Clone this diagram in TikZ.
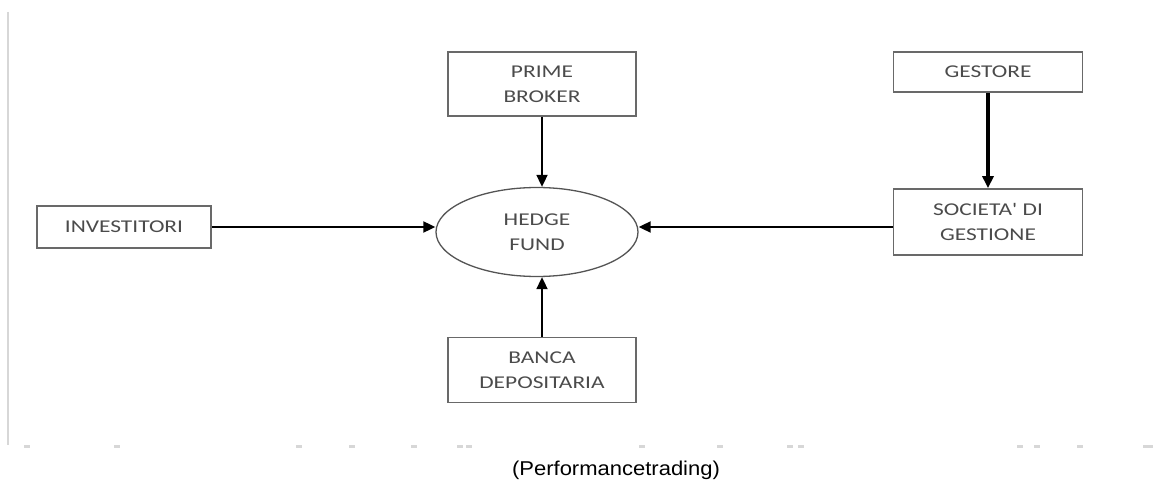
\documentclass[tikz,border=0pt]{standalone}
\usepackage{fontspec}
\newfontfamily\boxfont[FakeStretch=1.3]{Carlito}
\newfontfamily\capfont[FakeStretch=1.1]{Liberation Sans}
\definecolor{boxgray}{RGB}{105,105,105}
\definecolor{txtgray}{RGB}{75,75,75}
\definecolor{rulegray}{RGB}{215,215,215}
\usetikzlibrary{arrows.meta,positioning,shapes.geometric}

\begin{document}
\begin{tikzpicture}[x=1pt, y=-1pt,
    entity/.style={rectangle, draw=boxgray, line width=1.7pt, inner sep=0pt, align=center,
      text=txtgray, font=\boxfont\fontsize{18}{25}\selectfont},
    fund/.style={ellipse, draw=boxgray!80!black, line width=1.3pt, inner sep=0pt,
      minimum width=202, minimum height=89, align=center,
      text=txtgray, font=\boxfont\fontsize{18}{25}\selectfont},
    arrow/.style={-{Triangle[length=12pt, width=11pt]}, line width=1.8pt, black}
  ]
    \useasboundingbox (0,0) rectangle (1153,481);
    % frame left over from the source page
    \draw[rulegray, line width=2pt] (8,12) -- (8,445);
    \foreach \px in {27,117,299,352,414,460,469,642,720,790,801,1020,1037,1080}
      \fill[rulegray] (\px-3,445) rectangle (\px+3,448);
    \fill[rulegray] (1143,445) rectangle (1153,448);
    % Entities
    \node[fund] (hedge) at (537,232) {HEDGE\\FUND};
    \node[entity, minimum width=174, minimum height=42] (investitori) at (124,227) {INVESTITORI};
    \node[entity, minimum width=188, minimum height=64] (prime) at (542,84) {PRIME\\BROKER};
    \node[entity, minimum width=188, minimum height=65] (banca) at (542,370) {BANCA\\DEPOSITARIA};
    \node[entity, minimum width=189, minimum height=40] (gestore) at (988,72) {GESTORE};
    \node[entity, minimum width=189, minimum height=66] (societa) at (988,222) {SOCIETA' DI\\GESTIONE};
    % Flows into the fund
    \draw[arrow] (investitori.east) -- (investitori -| hedge.west);
    \draw[arrow] (societa.west |- investitori) -- (investitori -| hedge.east);
    \draw[arrow] (prime.south) -- (prime |- hedge.north);
    \draw[arrow] (banca.north) -- (banca |- hedge.south);
    \draw[arrow, line width=3.6pt] (gestore.south) -- (societa.north);
    % Source
    \node[font=\capfont\fontsize{20}{24}\selectfont] (fonte) at (616,470) {(Performancetrading)};
  \end{tikzpicture}
\end{document}
